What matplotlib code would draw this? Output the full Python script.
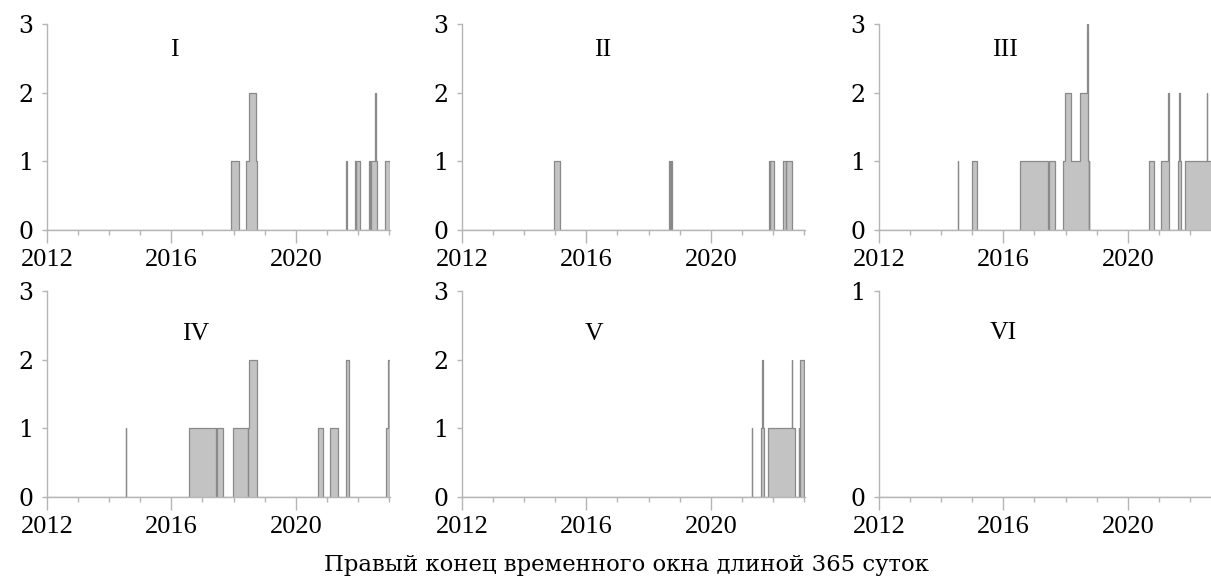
import matplotlib
matplotlib.use("Agg")
import matplotlib.pyplot as plt
from matplotlib.ticker import MultipleLocator, FixedLocator
import numpy as np

plt.rcParams['font.family'] = ['Liberation Serif', 'DejaVu Serif']

# Each panel: list of (start, end, height); overlapping pieces add up
seg_I = [(2017.92, 2018.19, 1), (2018.40, 2018.75, 1), (2018.48, 2018.73, 1),
         (2021.63, 2021.64, 1), (2021.90, 2021.93, 1), (2021.94, 2022.07, 1),
         (2022.37, 2022.40, 1), (2022.41, 2022.61, 1), (2022.56, 2022.57, 1),
         (2022.86, 2023.03, 1)]
seg_II = [(2014.96, 2015.15, 1), (2018.67, 2018.70, 1), (2018.71, 2018.76, 1),
          (2021.88, 2021.91, 1), (2021.92, 2022.02, 1), (2022.33, 2022.42, 1),
          (2022.43, 2022.60, 1)]
seg_III = [(2014.53, 2014.54, 1), (2014.99, 2015.14, 1), (2016.54, 2017.43, 1),
           (2017.46, 2017.65, 1), (2017.92, 2018.745, 1), (2017.97, 2018.18, 1),
           (2018.45, 2018.72, 1), (2018.70, 2018.71, 1), (2018.75, 2018.76, 1),
           (2020.67, 2020.83, 1), (2021.08, 2021.34, 1), (2021.30, 2021.31, 1),
           (2021.63, 2021.72, 1), (2021.655, 2021.665, 1), (2021.85, 2022.95, 1),
           (2022.54, 2022.55, 1)]
seg_IV = [(2014.54, 2014.55, 1), (2016.56, 2017.44, 1), (2017.47, 2017.65, 1),
          (2017.97, 2018.46, 1), (2018.47, 2018.76, 1), (2018.49, 2018.76, 1),
          (2020.70, 2020.86, 1), (2021.11, 2021.37, 1), (2021.63, 2021.72, 2),
          (2022.90, 2023.03, 1), (2022.98, 2023.03, 1)]
seg_V = [(2021.31, 2021.32, 1), (2021.63, 2021.71, 1), (2021.655, 2021.665, 1),
         (2021.85, 2022.72, 1), (2022.61, 2022.62, 1), (2022.83, 2022.84, 1),
         (2022.87, 2023.00, 2)]
seg_VI = []

panels = [seg_I, seg_II, seg_III, seg_IV, seg_V, seg_VI]
names = ["I", "II", "III", "IV", "V", "VI"]
ymax = [3, 3, 3, 3, 3, 1]
name_x = [2016.10, 2016.51, 2016.05, 2016.79, 2016.24, 2015.99]
name_y = [2.62, 2.62, 2.62, 2.38, 2.38, 0.795]
year_start, year_end = 2012, 2023.03
xlabel = "Правый конец временного окна длиной 365 суток"

fill_col = "#c3c3c3"
edge_col = "#8a8a8a"
axis_col = "#b5b5b5"


def step_curve(segs):
    pts = sorted({year_start, year_end} | {s for s, e, h in segs} | {e for s, e, h in segs})
    vals = [sum(h for s, e, h in segs if s <= p < e) for p in pts]
    return np.array(pts), np.array(vals, dtype=float)


fig = plt.figure(figsize=(12.11, 5.76), dpi=100)
W, H = 1211, 576
lefts = [47, 462, 879]
width = 343
bottoms = [230, 497]
height = 206

for i, segs in enumerate(panels):
    r, c = divmod(i, 3)
    ax = fig.add_axes([lefts[c] / W, (H - bottoms[r]) / H, width / W, height / H])
    x, y = step_curve(segs)
    ax.fill_between(x, y, step="post", color=fill_col, lw=0)
    ax.step(x, y, where="post", color=edge_col, lw=0.9)
    ax.set_xlim(year_start, year_end)
    ax.set_ylim(0, ymax[i])
    ax.set_yticks(range(ymax[i] + 1))
    ax.xaxis.set_major_locator(FixedLocator([2012, 2016, 2020]))
    ax.xaxis.set_minor_locator(MultipleLocator(1))
    for side in ["top", "right"]:
        ax.spines[side].set_visible(False)
    for side in ["left", "bottom"]:
        ax.spines[side].set_color(axis_col)
        ax.spines[side].set_linewidth(1.0)
    ax.tick_params(axis="x", which="major", length=9.4, width=1.0, color=axis_col,
                   labelsize=19, pad=4)
    ax.tick_params(axis="x", which="minor", length=3.6, width=1.0, color=axis_col)
    ax.tick_params(axis="y", length=3.6, width=1.0, color=axis_col, pad=6)
    for lab in ax.get_yticklabels():
        lab.set_fontfamily("DejaVu Serif")
        lab.set_fontsize(17)
    ax.text(name_x[i], name_y[i], names[i], ha="center", va="center", fontsize=18.5)

fig.text(626 / W, 1 - 565 / H, xlabel, ha="center", va="center", fontsize=16.4,
         family="DejaVu Serif")

fig.savefig("out.png", dpi=100)
